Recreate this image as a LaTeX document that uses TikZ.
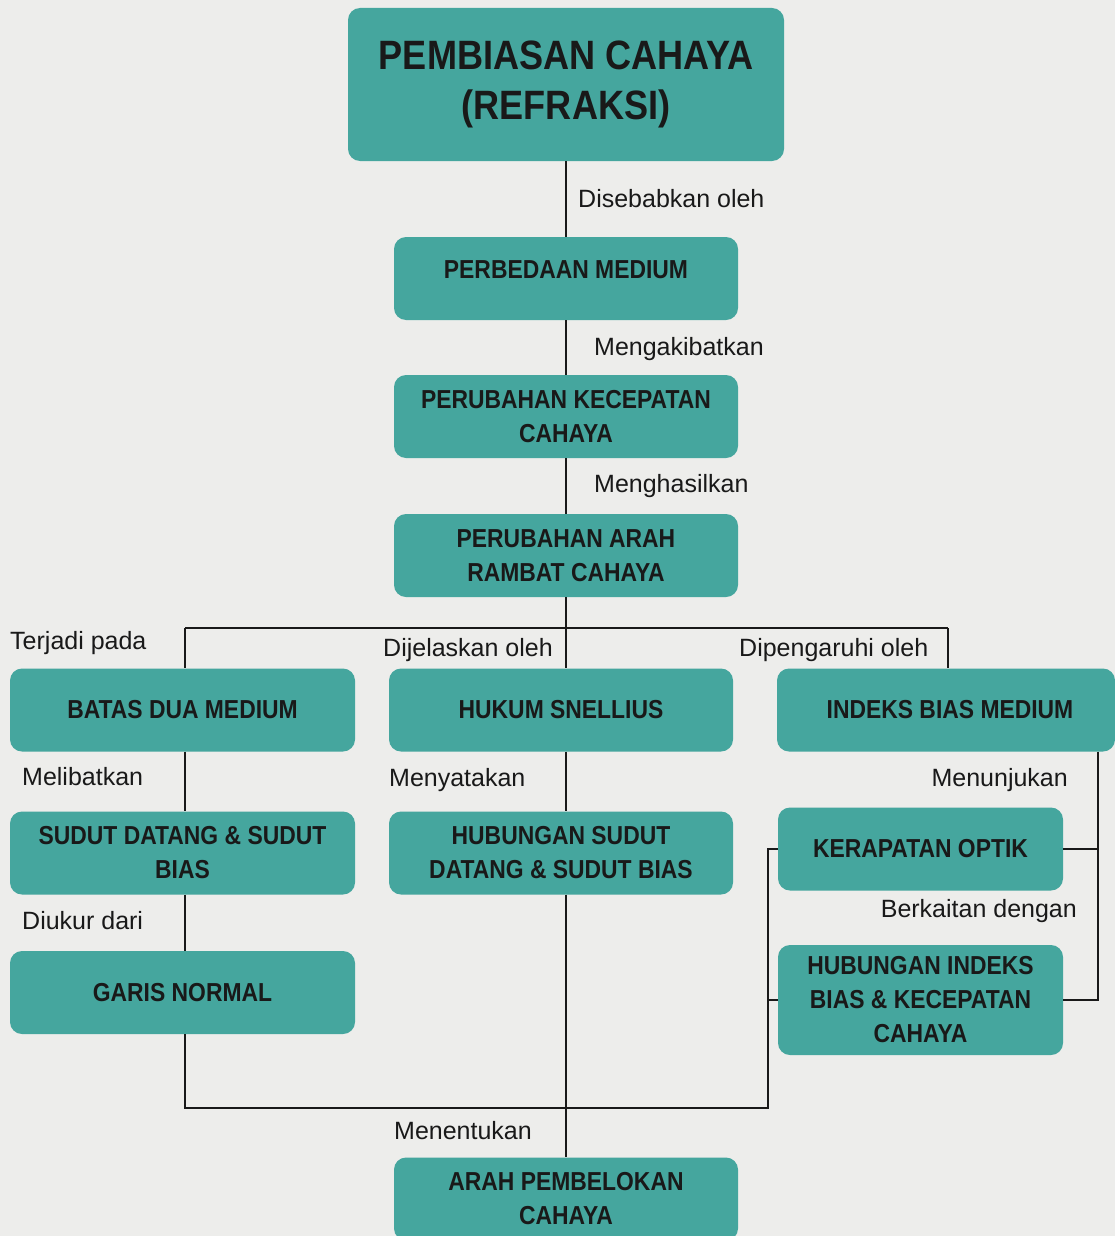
\documentclass[tikz,border=0pt]{standalone}
\usepackage{fontspec}
\setmainfont{Liberation Sans}
\newfontfamily\boxfont[FakeStretch=0.88]{Liberation Sans}
\definecolor{teal1}{RGB}{69,166,158}
\definecolor{bg}{RGB}{237,237,235}
\definecolor{ink}{RGB}{25,25,25}
\begin{document}
\begin{tikzpicture}[x=1pt,y=-1pt,
  box/.style={rectangle, rounded corners=12pt, fill=teal1, text=ink, align=center,
    font=\boxfont\bfseries\fontsize{26}{34}\selectfont,
    minimum width=344pt, minimum height=83pt, inner sep=0pt},
  boxtext/.style={text=ink, align=center, inner sep=0pt,
    font=\boxfont\bfseries\fontsize{26}{34}\selectfont},
  lbl/.style={font=\fontsize{25}{30}\selectfont, text=ink, inner sep=0pt},
  conn/.style={draw=ink, line width=2pt}]
\clip (0,0) rectangle (1115,1236);
\fill[bg] (0,0) rectangle (1115,1236);
\useasboundingbox (0,0) rectangle (1115,1236);

% boxes
\node[box, minimum width=436pt, minimum height=153pt,
  font=\boxfont\bfseries\fontsize{41}{50}\selectfont] (top) at (566,84.5) {PEMBIASAN CAHAYA\\(REFRAKSI)};
\node[box] (perb) at (566,278.5) {};
\node[boxtext] (perbt) at (566,270) {PERBEDAAN MEDIUM};
\node[box] (kec) at (566,416.5) {PERUBAHAN KECEPATAN\\CAHAYA};
\node[box] (arah) at (566,555.5) {PERUBAHAN ARAH\\RAMBAT CAHAYA};
\node[box, minimum width=345pt] (batas) at (182.5,710) {BATAS DUA MEDIUM};
\node[box] (hukum) at (561,710) {HUKUM SNELLIUS};
\node[box, minimum width=338pt] (indeks) at (946,710) {};
\node[boxtext] (indekst) at (950,710) {INDEKS BIAS MEDIUM};
\node[box, minimum width=345pt] (sudut) at (182.5,853) {SUDUT DATANG \& SUDUT\\BIAS};
\node[box] (hubs) at (561,853) {HUBUNGAN SUDUT\\DATANG \& SUDUT BIAS};
\node[box, minimum width=285pt] (kerap) at (920.5,849) {KERAPATAN OPTIK};
\node[box, minimum width=285pt, minimum height=110pt] (hubi) at (920.5,1000) {HUBUNGAN INDEKS\\BIAS \& KECEPATAN\\CAHAYA};
\node[box, minimum width=345pt] (garis) at (182.5,992.5) {GARIS NORMAL};
\node[box] (belok) at (566,1199) {ARAH PEMBELOKAN\\CAHAYA};

% junction coordinates
\coordinate (j) at (566,628);
\coordinate (jl) at (185,628);
\coordinate (jr) at (948,628);
\coordinate (bl) at (185,1108);
\coordinate (br) at (768,1108);
\coordinate (rr) at (1098,751);

% connectors
\draw[conn] (top.south -| j) -- (perb.north -| j);
\draw[conn] (perb.south -| j) -- (kec.north -| j);
\draw[conn] (kec.south -| j) -- (arah.north -| j);
\draw[conn] (arah.south -| j) -- (j);
\draw[conn] (jl) -- (jr);
\draw[conn] (jl) -- (jl |- batas.north);
\draw[conn] (j) -- (j |- hukum.north);
\draw[conn] (jr) -- (jr |- indeks.north);
\draw[conn] (batas.south -| jl) -- (sudut.north -| jl);
\draw[conn] (sudut.south -| jl) -- (garis.north -| jl);
\draw[conn] (hukum.south -| j) -- (hubs.north -| j);
\draw[conn] (hubs.south -| j) -- (belok.north -| j);
\draw[conn] (garis.south -| jl) -- (bl) -- (br) -- (br |- kerap.west) -- (kerap.west);
\draw[conn] (br |- hubi.west) -- (hubi.west);
\draw[conn] (indeks.south -| rr) -- (rr |- hubi.east) -- (hubi.east);
\draw[conn] (rr |- kerap.east) -- (kerap.east);

% labels
\node[lbl, anchor=base west] (l1) at (578,207) {Disebabkan oleh};
\node[lbl, anchor=base west] (l2) at (594,355) {Mengakibatkan};
\node[lbl, anchor=base west] (l3) at (594,492) {Menghasilkan};
\node[lbl, anchor=base west] (l4) at (10,649) {Terjadi pada};
\node[lbl, anchor=base west] (l5) at (383,656) {Dijelaskan oleh};
\node[lbl, anchor=base west] (l6) at (739,656) {Dipengaruhi oleh};
\node[lbl, anchor=base west] (l7) at (22,785) {Melibatkan};
\node[lbl, anchor=base west] (l8) at (22,929) {Diukur dari};
\node[lbl, anchor=base west] (l9) at (389,786) {Menyatakan};
\node[lbl, anchor=base east] (l10) at (1068,786) {Menunjukan};
\node[lbl, anchor=base east] (l11) at (1077,917) {Berkaitan dengan};
\node[lbl, anchor=base west] (l12) at (394,1139) {Menentukan};
\end{tikzpicture}
\end{document}
